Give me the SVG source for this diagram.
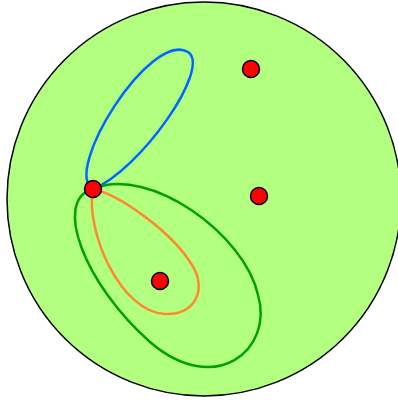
<svg xmlns="http://www.w3.org/2000/svg" width="398" height="400" viewBox="0 0 398 400">
<style>
.loop{fill:none;stroke-width:2.5}
.pt{fill:#ff0000;stroke:#000;stroke-width:1.5}
</style>
<g id="disk"><circle cx="204" cy="199" r="197" fill="#b3ff80" stroke="#000" stroke-width="1.5"/></g>
<g id="connectors">
<path class="loop" stroke="#0066ff" d="M93,189 C62,172 150,30 188,52 C212,68 140,170 93,189"/>
<path class="loop" stroke="#00a000" d="M93,189 C52,200 85,285 150,342 C215,398 274,350 258,295 C245,235 150,165 93,189"/>
<path class="loop" stroke="#ff8833" d="M93,189 C85,230 120,312 165,314 C194,316 208,290 192,265 C172,232 120,195 93,189"/>
</g>
<g id="p0"><circle class="pt" cx="93" cy="189" r="8.5"/></g>
<g id="p1"><circle class="pt" cx="251" cy="69" r="8.5"/></g>
<g id="p2"><circle class="pt" cx="259" cy="196" r="8.5"/></g>
<g id="p3"><circle class="pt" cx="160" cy="281" r="8.5"/></g>
</svg>
